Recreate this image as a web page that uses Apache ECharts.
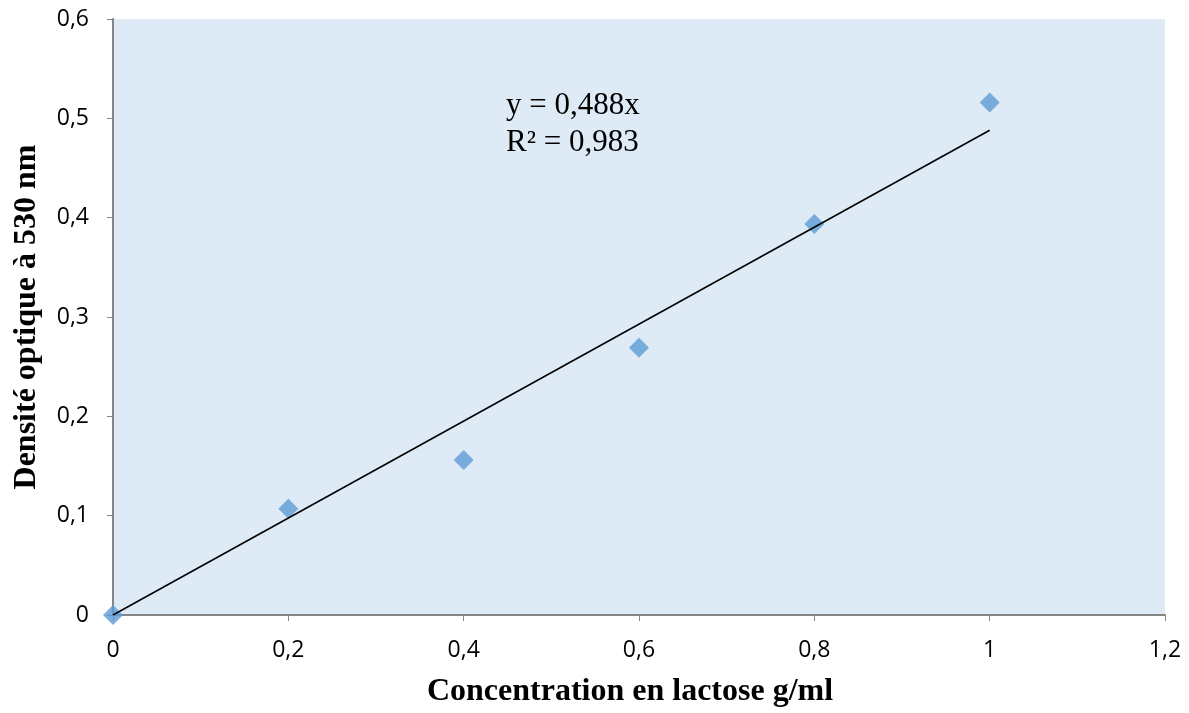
<!DOCTYPE html>
<html><head><meta charset="utf-8">
<script src="https://cdn.jsdelivr.net/npm/echarts@6/dist/echarts.min.js"></script>
<style>html,body{margin:0;padding:0;background:#fff}#c{width:1189px;height:713px}</style>
</head><body><div id="c"></div>
<script>
const concentrations = [0, 0.2, 0.4, 0.6, 0.8, 1.0];
const densities = [0, 0.107, 0.156, 0.269, 0.3935, 0.516];
const trendSlope = 0.488;
const trendRange = [0, 1.0];
const equationLines = ['y = 0,488x', 'R² = 0,983'];
const xTitle = 'Concentration en lactose g/ml';
const yTitle = 'Densité optique à 530 nm';

const fmt = v => (+v.toFixed(1)).toString().replace('.', ',');
const chart = echarts.init(document.getElementById('c'), null, {renderer: 'canvas'});
const axisCommon = {
  axisLine: {show: true, onZero: false, lineStyle: {color: '#868686', width: 2}},
  axisTick: {show: true, inside: false, length: 6, lineStyle: {color: '#868686', width: 1}},
  splitLine: {show: false},
  axisLabel: {color: '#000', fontSize: 23, fontFamily: 'Open Sans', formatter: fmt},
  nameLocation: 'middle',
  nameTextStyle: {color: '#000', fontSize: 32, fontWeight: 'bold', fontFamily: 'Liberation Serif'}
};
chart.setOption({
  animation: false,
  grid: {left: 113, top: 19, right: 24, bottom: 97, show: true, backgroundColor: '#DEEAF6', borderWidth: 0},
  xAxis: Object.assign({}, axisCommon, {type: 'value', min: 0, max: 1.2, interval: 0.2, name: xTitle, nameGap: 61,
    nameTextStyle: Object.assign({}, axisCommon.nameTextStyle, {padding: [0, 18, 0, 0]}),
    axisLabel: Object.assign({}, axisCommon.axisLabel, {margin: 24})}),
  yAxis: Object.assign({}, axisCommon, {type: 'value', min: 0, max: 0.6, interval: 0.1, name: yTitle, nameGap: 70,
    axisLabel: Object.assign({}, axisCommon.axisLabel, {margin: 24})}),
  series: [
    {type: 'scatter', data: concentrations.map((x, i) => [x, densities[i]]), symbol: 'diamond', symbolSize: 20,
     itemStyle: {color: '#5B9BD5'}, z: 2},
    {type: 'line', data: trendRange.map(x => [x, trendSlope * x]), symbol: 'none', lineStyle: {color: '#000', width: 1.5}, z: 3}
  ],
  graphic: [{type: 'text', left: 506, top: 87, style: {text: equationLines.join('\n'), fontSize: 31, lineHeight: 37, fontFamily: 'Liberation Serif', fill: '#000'}}]
});
</script></body></html>
